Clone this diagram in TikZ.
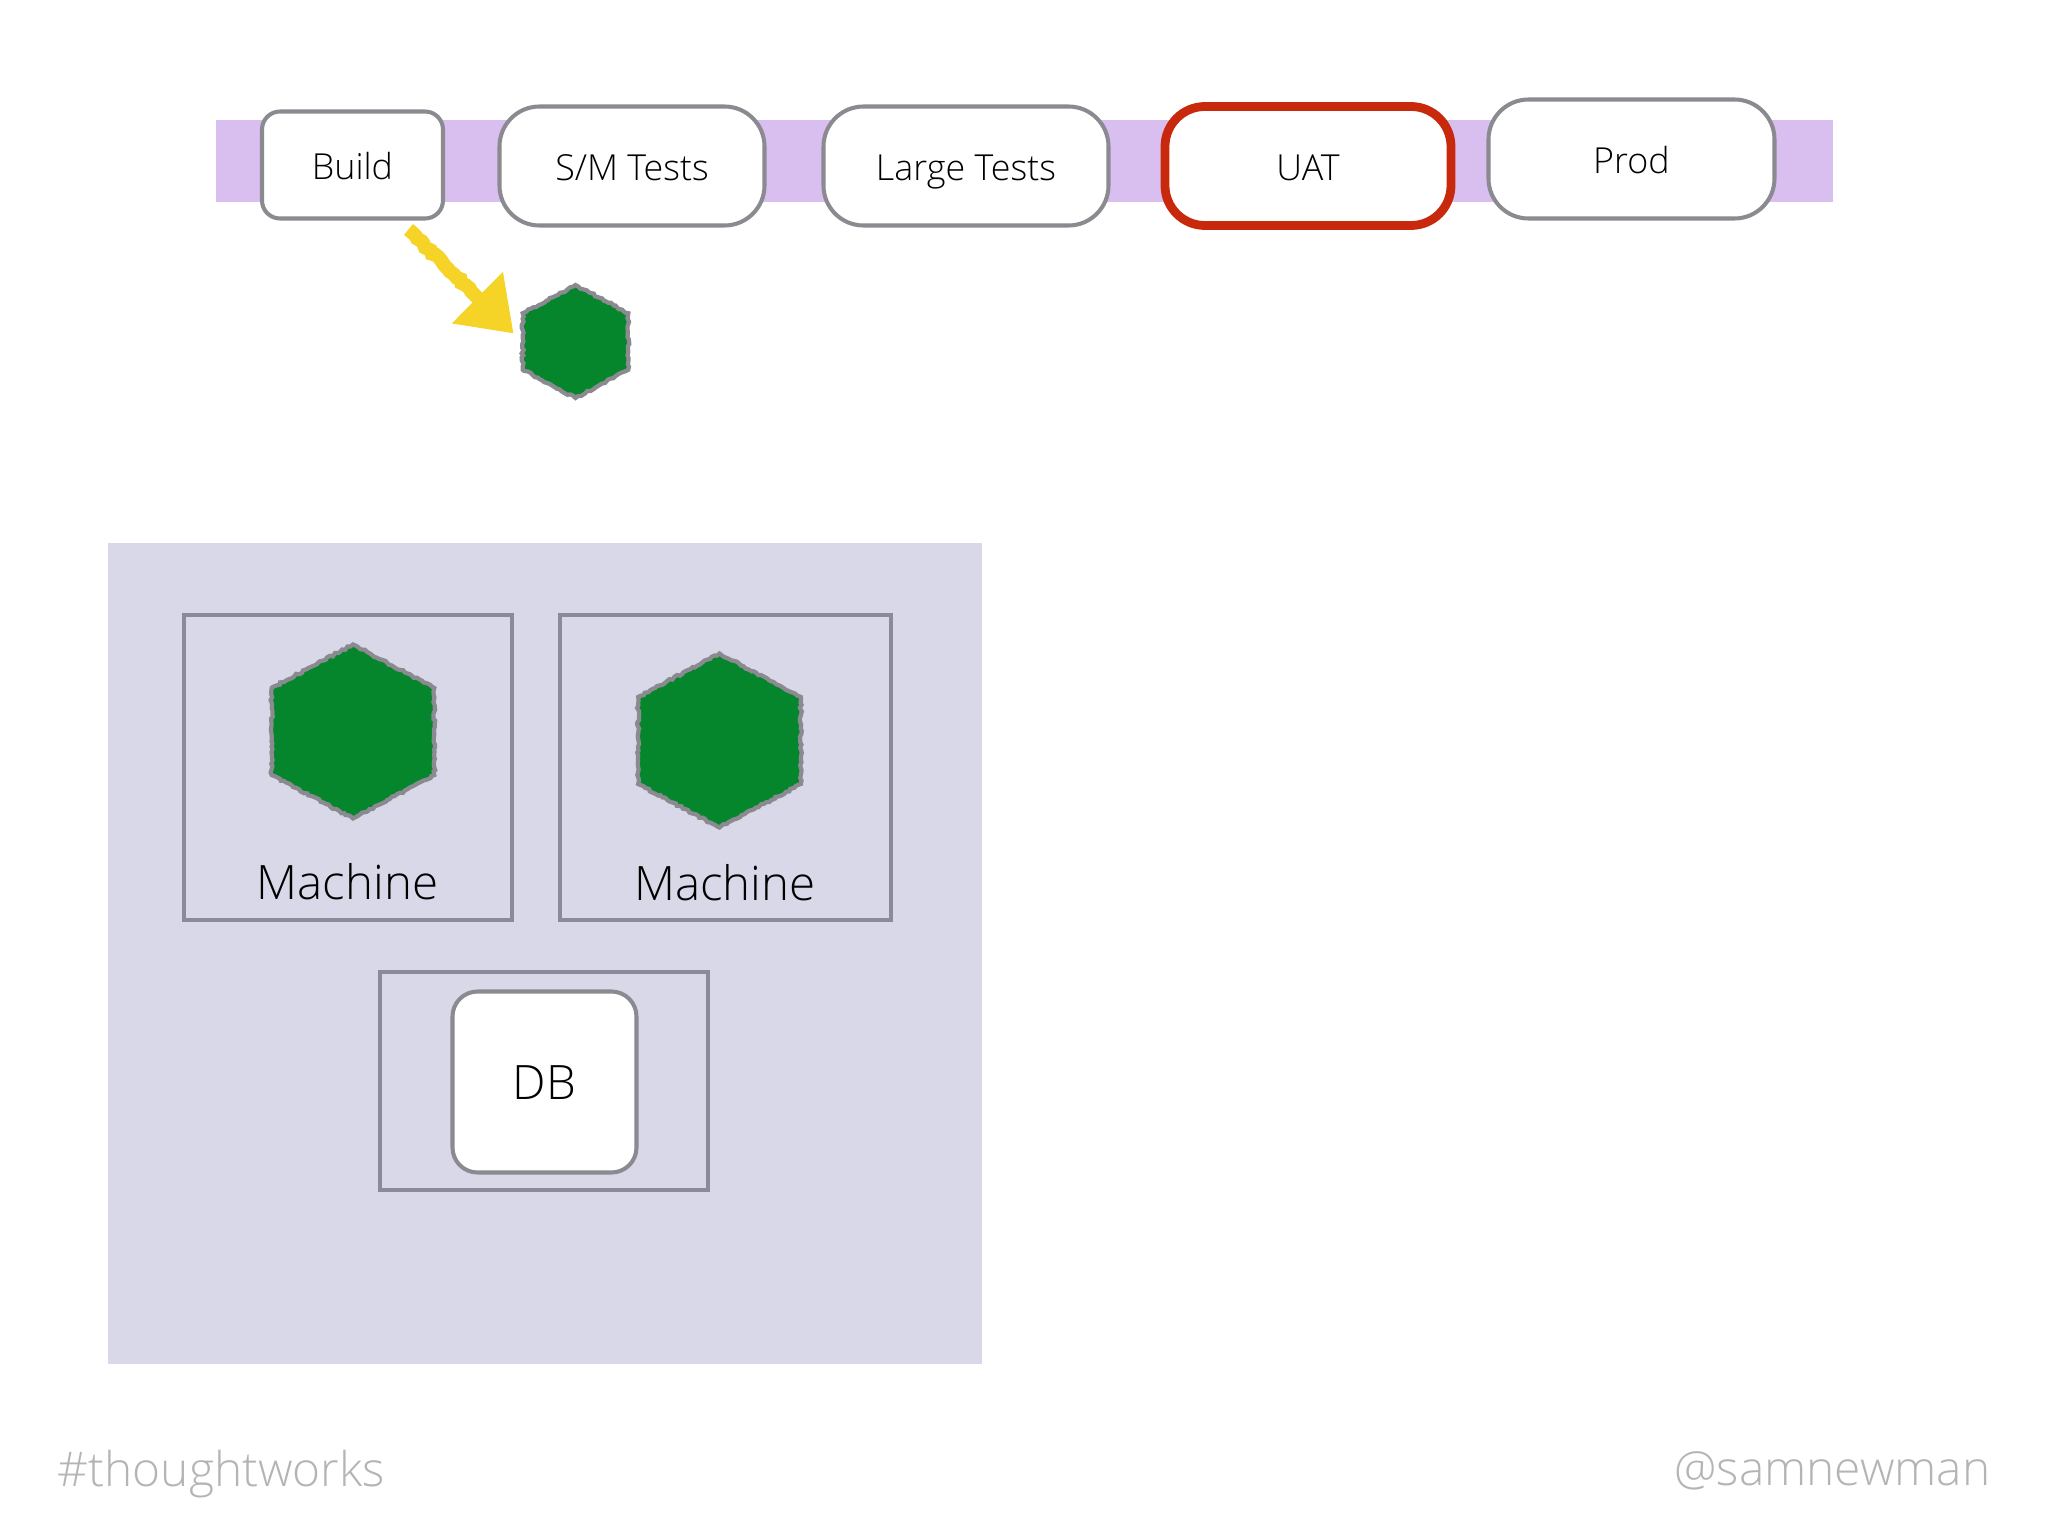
\documentclass[tikz,border=0pt]{standalone}
\usepackage{fontspec}
\setmainfont{Open Sans Light}
\usetikzlibrary{arrows.meta,shapes.geometric,decorations.pathmorphing}
\definecolor{bandlilac}{HTML}{D9BEF0}
\definecolor{panellilac}{HTML}{D9D8E8}
\definecolor{boxgrey}{HTML}{8A8A90}
\definecolor{framegrey}{HTML}{8B8A9A}
\definecolor{hexgreen}{HTML}{06862C}
\definecolor{uatred}{HTML}{C8280C}
\definecolor{movegold}{HTML}{F5D327}
\definecolor{footgrey}{HTML}{B4B4B4}
\tikzset{
  stage/.style={draw=boxgrey,fill=white,line width=1.15pt,rounded corners=.4cm,outer sep=0pt,inner sep=0pt,
    font=\fontsize{10.2}{12}\selectfont,text height=8.2pt,text depth=0pt},
  frame/.style={draw=framegrey,line width=1pt,outer sep=0pt},
  hex/.style={regular polygon,regular polygon sides=6,shape border rotate=30,draw=boxgrey,fill=hexgreen,
    line width=1.2pt,inner sep=0pt,outer sep=0pt,decorate,decoration={random steps,segment length=.8pt,amplitude=.3pt}},
  biglabel/.style={font=\fontsize{13.5}{15}\selectfont,inner sep=0pt},
  footlabel/.style={font=\fontsize{13.6}{15}\selectfont,text=footgrey,inner sep=0pt},
  moveline/.style={draw=movegold,line width=.14cm,-{Triangle[length=.51cm,width=.69cm,fill=movegold]},
    decorate,decoration={random steps,segment length=1.2pt,amplitude=.4pt,post=lineto,post length=.6cm}}
}
\begin{document}
\begin{tikzpicture}
\pgfmathsetseed{7}
\useasboundingbox (0,0) rectangle (20.48,-15.36);
\node[fill=bandlilac,minimum width=16.17cm,minimum height=.82cm,inner sep=0pt] (band) at (10.24,-1.61) {};
\node[stage,rounded corners=.18cm,minimum width=1.81cm,minimum height=1.07cm] (build) at (3.525,-1.65) {Build};
\node[stage,minimum width=2.65cm,minimum height=1.19cm] (smtests) at (6.32,-1.66) {S/M Tests};
\node[stage,minimum width=2.85cm,minimum height=1.19cm] (largetests) at (9.66,-1.66) {Large Tests};
\node[stage,draw=uatred,line width=2.5pt,minimum width=2.86cm,minimum height=1.19cm] (uat) at (13.08,-1.66) {UAT};
\node[stage,minimum width=2.86cm,minimum height=1.19cm] (prod) at (16.315,-1.59) {Prod};

\node[hex,minimum size=1.13cm,xscale=1.08] (hexsmall) at (5.755,-3.415) {};
\draw[moveline] ([xshift=.56cm,yshift=-.11cm]build.south) -- ([xshift=-.09cm,yshift=.08cm]hexsmall.west);

\node[fill=panellilac,minimum width=8.74cm,minimum height=8.2cm,inner sep=0pt] (panel) at (5.45,-9.535) {};
\node[frame,minimum width=3.28cm,minimum height=3.05cm] (machinea) at (3.48,-7.675) {};
\node[frame,minimum width=3.31cm,minimum height=3.05cm] (machineb) at (7.255,-7.675) {};
\node[frame,minimum width=3.28cm,minimum height=2.18cm] (dbframe) at (5.44,-10.81) {};
\node[hex,minimum size=1.74cm,xscale=1.08] (hexa) at (3.53,-7.315) {};
\node[hex,minimum size=1.74cm,xscale=1.08] (hexb) at (7.195,-7.405) {};
\node[biglabel] (machinetexta) at (3.475,-8.82) {Machine};
\node[biglabel] (machinetextb) at (7.25,-8.83) {Machine};
\node[stage,font=\fontsize{13.5}{15}\selectfont,text height=9.8pt,rounded corners=.25cm,minimum width=1.84cm,minimum height=1.81cm] (db) at (5.445,-10.82) {DB};

\node[footlabel,anchor=west] (hashtag) at (.57,-14.74) {\#thoughtworks};
\node[footlabel,anchor=east] (handle) at (19.91,-14.71) {@samnewman};
\end{tikzpicture}
\end{document}
